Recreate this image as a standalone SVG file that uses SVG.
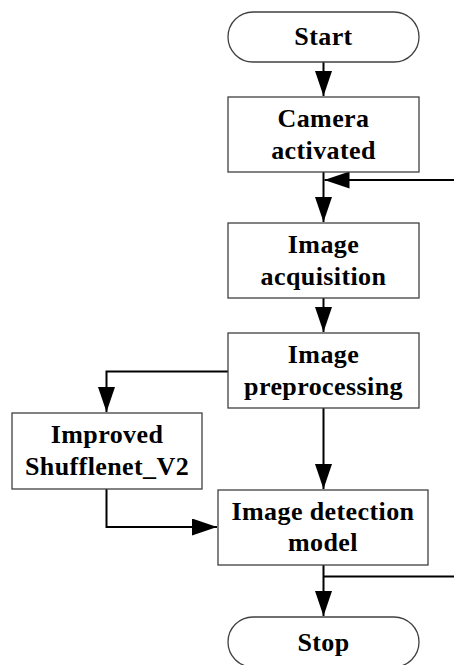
<svg xmlns="http://www.w3.org/2000/svg" width="454" height="665" viewBox="0 0 454 665">
<style>
.box{fill:#fff;stroke:#404040;stroke-width:1.3}
.t{font-family:"Liberation Serif","Times New Roman",serif;font-weight:bold;font-size:26px;letter-spacing:0.4px;text-anchor:middle;fill:#000}
.c{fill:none;stroke:#000;stroke-width:2}
</style>
<defs>
<marker id="ah" markerUnits="userSpaceOnUse" markerWidth="25" markerHeight="17" refX="25" refY="8.5" orient="auto">
<path d="M0,0 L25,8.5 L0,17 z" fill="#000"/>
</marker>
</defs>
<g id="connectors">
<path class="c" d="M323.5,62 V96" marker-end="url(#ah)"/>
<path class="c" d="M323.5,172 V222" marker-end="url(#ah)"/>
<path class="c" d="M454,180 H324.5" marker-end="url(#ah)"/>
<path class="c" d="M323.5,298 V332" marker-end="url(#ah)"/>
<path class="c" d="M228,371.5 H106.5 V412" marker-end="url(#ah)"/>
<path class="c" d="M323.5,408 V489" marker-end="url(#ah)"/>
<path class="c" d="M106.5,489 V527 H217" marker-end="url(#ah)"/>
<path class="c" d="M323.5,565 V616" marker-end="url(#ah)"/>
<path class="c" d="M323.5,576.5 H454"/>
</g>
<g id="start">
<rect class="box" x="228" y="12" width="191" height="50" rx="25" ry="25"/>
<text class="t" x="323.5" y="45">Start</text>
</g>
<g id="camera">
<rect class="box" x="228" y="97" width="191" height="75"/>
<text class="t" x="323.5" y="126.5">Camera</text>
<text class="t" x="323.5" y="158.5">activated</text>
</g>
<g id="acquisition">
<rect class="box" x="228" y="223" width="191" height="75"/>
<text class="t" x="323.5" y="252.5">Image</text>
<text class="t" x="323.5" y="284.5">acquisition</text>
</g>
<g id="preprocessing">
<rect class="box" x="228" y="333" width="191" height="75"/>
<text class="t" x="323.5" y="362.5">Image</text>
<text class="t" x="323.5" y="394.5">preprocessing</text>
</g>
<g id="shufflenet">
<rect class="box" x="12" y="413" width="190" height="76"/>
<text class="t" x="107" y="442.5">Improved</text>
<text class="t" x="107" y="475">Shufflenet_V2</text>
</g>
<g id="detection">
<rect class="box" x="218" y="490" width="210" height="75"/>
<text class="t" x="323" y="520">Image detection</text>
<text class="t" x="323" y="551">model</text>
</g>
<g id="stop">
<rect class="box" x="228" y="617" width="191" height="50" rx="25" ry="25"/>
<text class="t" x="323.5" y="651">Stop</text>
</g>
</svg>
